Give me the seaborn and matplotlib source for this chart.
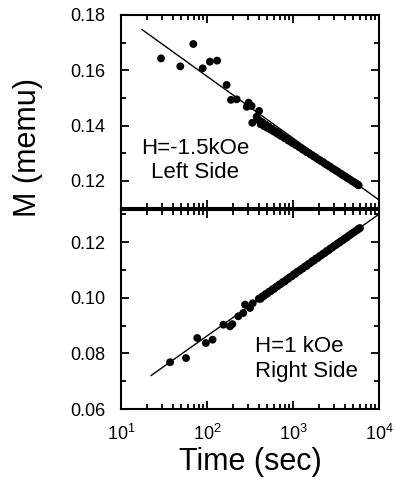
import seaborn as sns
from matplotlib import pyplot as plt
from matplotlib.ticker import LogLocator, MultipleLocator, NullFormatter

# 左侧 H=-1.5kOe
left_time = [29.2, 48.9, 69.3, 89, 108, 131, 169, 190, 221, 290, 305, 330, 336, 378, 403,
             400, 420, 440, 460, 480, 500, 525, 550, 575, 600, 630, 660, 690, 720, 760,
             800, 840, 880, 920, 970, 1020, 1070, 1120, 1180, 1240, 1300, 1370, 1440, 1510,
             1590, 1670, 1750, 1840, 1930, 2030, 2130, 2240, 2350, 2470, 2590, 2720, 2860,
             3000, 3150, 3300, 3470, 3640, 3820, 4010, 4210, 4420, 4640, 4870, 5110, 5370,
             5640, 5800]
left_m = [0.1643, 0.1614, 0.1695, 0.1607, 0.1631, 0.1635, 0.1547, 0.1493, 0.1495, 0.1468,
          0.1483, 0.1471, 0.1410, 0.1432, 0.1453,
          0.1420, 0.1405, 0.1412, 0.1398, 0.1404, 0.1392, 0.1396, 0.1385, 0.1388, 0.1378,
          0.1380, 0.1370, 0.1372, 0.1363, 0.1362, 0.1354, 0.1353, 0.1346, 0.1345, 0.1338,
          0.1336, 0.1330, 0.1328, 0.1322, 0.1319, 0.1313, 0.1310, 0.1304, 0.1302, 0.1296,
          0.1293, 0.1288, 0.1285, 0.1279, 0.1276, 0.1271, 0.1268, 0.1262, 0.1259, 0.1254,
          0.1251, 0.1245, 0.1242, 0.1237, 0.1234, 0.1229, 0.1225, 0.1220, 0.1217, 0.1212,
          0.1208, 0.1204, 0.1199, 0.1196, 0.1191, 0.1187, 0.1184]
left_fit_t = [17.4, 10000]
left_fit_m = [0.1748, 0.1131]

# 右侧 H=1 kOe
right_time = [37.2, 57, 77, 97, 116, 155, 185, 197, 231, 264, 277, 316, 340,
              400, 420, 440, 460, 480, 500, 525, 550, 575, 600, 630, 660, 690, 720, 760,
              800, 840, 880, 920, 970, 1020, 1070, 1120, 1180, 1240, 1300, 1370, 1440, 1510,
              1590, 1670, 1750, 1840, 1930, 2030, 2130, 2240, 2350, 2470, 2590, 2720, 2860,
              3000, 3150, 3300, 3470, 3640, 3820, 4010, 4210, 4420, 4640, 4870, 5110, 5370,
              5640, 5800, 6010]
right_m = [0.0768, 0.0783, 0.0855, 0.0837, 0.0849, 0.0903, 0.0897, 0.0905, 0.0933, 0.0945,
           0.0975, 0.0963, 0.0980,
           0.0996, 0.0996, 0.1005, 0.1006, 0.1013, 0.1014, 0.1021, 0.1023, 0.1030, 0.1031,
           0.1038, 0.1041, 0.1047, 0.1049, 0.1056, 0.1058, 0.1065, 0.1068, 0.1074, 0.1077,
           0.1084, 0.1086, 0.1093, 0.1096, 0.1102, 0.1105, 0.1112, 0.1114, 0.1121, 0.1124,
           0.1131, 0.1133, 0.1140, 0.1142, 0.1149, 0.1152, 0.1158, 0.1161, 0.1168, 0.1170,
           0.1177, 0.1180, 0.1186, 0.1189, 0.1195, 0.1198, 0.1204, 0.1207, 0.1213, 0.1216,
           0.1222, 0.1226, 0.1231, 0.1235, 0.1240, 0.1244, 0.1248, 0.1250]
right_fit_t = [22.3, 10000]
right_fit_m = [0.0720, 0.1300]

sns.set_style('ticks', {'axes.edgecolor': 'black', 'text.color': 'black',
                        'xtick.color': 'black', 'ytick.color': 'black',
                        'axes.labelcolor': 'black'})
plt.rcParams['font.family'] = ['Liberation Sans', 'DejaVu Sans']
plt.rcParams['mathtext.fontset'] = 'custom'
plt.rcParams['mathtext.rm'] = 'Liberation Sans'

fig = plt.figure(figsize=(3.96, 4.91), dpi=100)
ax1 = fig.add_axes([0.3056, 0.5764, 0.6515, 0.3931])
ax2 = fig.add_axes([0.3056, 0.167, 0.6515, 0.4053])

for ax, t, m, ft, fm in [(ax1, left_time, left_m, left_fit_t, left_fit_m),
                         (ax2, right_time, right_m, right_fit_t, right_fit_m)]:
    sns.lineplot(x=ft, y=fm, ax=ax, color='black', linewidth=1.0)
    sns.scatterplot(x=t, y=m, ax=ax, color='black', s=32, edgecolor='none', linewidth=0)
    ax.set_xscale('log')
    ax.set_xlim(10, 10000)
    ax.xaxis.set_major_locator(LogLocator(base=10))
    ax.xaxis.set_minor_locator(LogLocator(base=10, subs=range(2, 10)))
    ax.xaxis.set_minor_formatter(NullFormatter())
    ax.tick_params(which='both', direction='in', top=True, right=True, width=1.3,
                   color='black', labelcolor='black')
    ax.tick_params(which='major', length=6, labelsize=13, pad=11)
    ax.tick_params(which='minor', length=3.5)
    for sp in ax.spines.values():
        sp.set_linewidth(1.5)
        sp.set_color('black')
    ax.set_xlabel('')
    ax.set_ylabel('')

ax1.set_ylim(0.1102, 0.18)
ax1.yaxis.set_minor_locator(MultipleLocator(0.01))
ax1.set_yticks([0.12, 0.14, 0.16, 0.18])
ax1.set_yticklabels(['0.12', '0.14', '0.16', '0.18'])
ax1.tick_params(axis='x', labelbottom=False)

ax2.set_ylim(0.06, 0.1315)
ax2.yaxis.set_minor_locator(MultipleLocator(0.01))
ax2.set_yticks([0.06, 0.08, 0.10, 0.12])
ax2.set_yticklabels(['0.06', '0.08', '0.10', '0.12'])
ax2.set_xlabel('Time (sec)', fontsize=22, labelpad=2, color='black')

ax1.text(0.287, 0.246, 'H=-1.5kOe\nLeft Side', transform=ax1.transAxes,
         ha='center', va='center', fontsize=16, linespacing=1.2, color='black')
ax2.text(0.519, 0.251, 'H=1 kOe\nRight Side', transform=ax2.transAxes,
         ha='left', va='center', fontsize=16, linespacing=1.2, color='black')

fig.text(0.07, 0.70, 'M (memu)', rotation=90, ha='center', va='center',
         fontsize=22, color='black')

plt.savefig('out.png', dpi=100)
